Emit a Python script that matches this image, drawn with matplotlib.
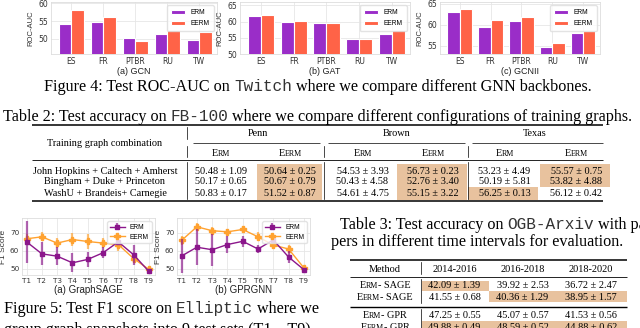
import matplotlib
matplotlib.use("Agg")
import matplotlib.pyplot as plt
from matplotlib.patches import Rectangle
import numpy as np

W, H = 640, 328
SERIF = "Liberation Serif"
MONO = "Liberation Mono"
SANS = "Liberation Sans"
CAP = 11.6   # caption size
TAB = 7.4    # table text size

# Figure 4: ROC-AUC on Twitch
twitch_sets = ["ES", "FR", "PTBR", "RU", "TW"]
gcn_erm = [54.2, 54.8, 50.4, 51.3, 49.8]
gcn_eerm = [58.0, 56.0, 49.3, 52.6, 52.0]
gat_erm = [61.7, 59.7, 59.5, 54.7, 56.3]
gat_eerm = [62.0, 60.3, 59.4, 54.5, 57.3]
gcnii_erm = [63.0, 59.5, 61.0, 54.7, 58.1]
gcnii_eerm = [63.8, 61.1, 61.8, 55.7, 58.5]

# Figure 5: F1 on Elliptic
test_sets = ["T1", "T2", "T3", "T4", "T5", "T6", "T7", "T8", "T9"]
sage_erm = [65.0, 58.3, 57.0, 53.3, 55.2, 58.9, 65.0, 57.8, 48.5]
sage_erm_err = [11.6, 6.4, 4.9, 5.2, 4.0, 3.0, 1.5, 5.5, 1.0]
sage_eerm = [66.7, 67.8, 64.3, 66.3, 65.2, 64.3, 63.5, 55.7, 49.6]
sage_eerm_err = [2.5, 2.5, 3.0, 3.5, 4.0, 3.0, 3.5, 2.0, 1.0]
gpr_erm = [57.1, 62.0, 60.6, 63.5, 65.3, 61.0, 66.1, 56.5, 49.5]
gpr_erm_err = [9.5, 10.0, 9.0, 4.5, 3.0, 2.5, 2.0, 3.5, 0.8]
gpr_eerm = [65.8, 73.4, 71.2, 70.6, 71.9, 67.8, 63.2, 61.0, 50.5]
gpr_eerm_err = [2.5, 2.0, 1.8, 1.8, 2.0, 2.5, 2.0, 2.0, 0.8]

# Table 2: FB-100
fb_rows = ["John Hopkins + Caltech + Amherst", "Bingham + Duke + Princeton",
           "WashU + Brandeis+ Carnegie"]
fb_graphs = ["Penn", "Brown", "Texas"]
fb_cells = [
    ["50.48 ± 1.09", "50.64 ± 0.25", "54.53 ± 3.93", "56.73 ± 0.23", "53.23 ± 4.49", "55.57 ± 0.75"],
    ["50.17 ± 0.65", "50.67 ± 0.79", "50.43 ± 4.58", "52.76 ± 3.40", "50.19 ± 5.81", "53.82 ± 4.88"],
    ["50.83 ± 0.17", "51.52 ± 0.87", "54.61 ± 4.75", "55.15 ± 3.22", "56.25 ± 0.13", "56.12 ± 0.42"],
]
fb_best = [[1, 3, 5], [1, 3, 5], [1, 3, 4]]

# Table 3: OGB-Arxiv
arxiv_years = ["2014-2016", "2016-2018", "2018-2020"]
arxiv_methods = [("E", "RM", "- SAGE"), ("E", "ERM", "- SAGE"), ("E", "RM", "- GPR"), ("E", "ERM", "- GPR")]
arxiv_cells = [
    ["42.09 ± 1.39", "39.92 ± 2.53", "36.72 ± 2.47"],
    ["41.55 ± 0.68", "40.36 ± 1.29", "38.95 ± 1.57"],
    ["47.25 ± 0.55", "45.07 ± 0.57", "41.53 ± 0.56"],
    ["49.88 ± 0.49", "48.59 ± 0.52", "44.88 ± 0.62"],
]
arxiv_best = [[0], [1, 2], [], [0, 1, 2]]

ERM_C, EERM_C = "#9A2DC8", "#FF6347"
ERM_L, EERM_L = "#8B168B", "#FFA230"
HL = "#E8C29E"

fig = plt.figure(figsize=(6.4, 3.28), dpi=100)
over = fig.add_axes([0, 0, 1, 1])
over.set_xlim(0, W)
over.set_ylim(H, 0)
over.axis("off")
rend = fig.canvas.get_renderer()


def put_runs(x, y, runs, size, ha="left", color="black"):
    # runs: (text, family, scale); " " means a word space
    items, total = [], 0.0
    for s, fam, sc in runs:
        if s == " ":
            w = size * 0.25 * 100 / 72
            items.append((None, w))
        else:
            c = "#333333" if fam == MONO else color
            t = over.text(0, y, s, family=fam, fontsize=size * sc, va="baseline", color=c)
            w = t.get_window_extent(rend).width
            items.append((t, w))
        total += w
    x0 = x - total / 2 if ha == "center" else x
    for t, w in items:
        if t is not None:
            t.set_x(x0)
        x0 += w


def words(*chunks):
    out = []
    for i, (s, fam) in enumerate(chunks):
        if i:
            out.append((" ", None, 1))
        out.append((s, fam, 1))
    return out


def hline(y, x0, x1, lw=0.6):
    over.plot([x0, x1], [y, y], color="black", lw=lw, solid_capstyle="butt")


def vline(x, y0, y1):
    over.plot([x, x], [y0, y1], color="black", lw=0.5)


def style(ax):
    ax.set_facecolor("white")
    ax.grid(True, color="#E6E6E6", lw=0.6, zorder=0)
    ax.set_axisbelow(True)
    for sp in ax.spines.values():
        sp.set_color("#DDDDDD")
        sp.set_linewidth(0.6)
    ax.tick_params(length=0, labelsize=5.5, pad=2, colors="#333333")


def px_rect(l, r, t, b):
    return [l / W, 1 - b / H, (r - l) / W, (b - t) / H]


def bar_panel(rect, erm, eerm, ylim, yticks, label):
    ax = fig.add_axes(rect)
    x = np.arange(len(twitch_sets))
    ax.bar(x - 0.2, erm, 0.4, color=ERM_C, edgecolor="white", lw=0.8, label="ERM", zorder=2)
    ax.bar(x + 0.2, eerm, 0.4, color=EERM_C, edgecolor="white", lw=0.8, label="EERM", zorder=2)
    ax.set_xticks(x, twitch_sets)
    ax.set_yticks(yticks)
    ax.set_xlim(-0.64, 4.55)
    ax.set_ylim(*ylim)
    style(ax)
    ax.set_ylabel("ROC-AUC", fontsize=5.5, labelpad=3, family=SANS, color="#333333")
    ax.set_xlabel(label, fontsize=6.5, labelpad=1, family=SANS, color="#222222")
    ax.legend(loc="upper right", handlelength=2.2, handleheight=0.6,
              borderpad=0.6, labelspacing=0.6, frameon=True, edgecolor="#DDDDDD",
              prop={"family": SANS, "size": 4.8})
    return ax


def line_panel(rect, erm, erm_e, eerm, eerm_e, label):
    ax = fig.add_axes(rect)
    x = np.arange(len(test_sets))
    ax.errorbar(x, erm, yerr=erm_e, color=ERM_L, marker="s", ms=3.2, lw=1.0,
                elinewidth=1.6, ecolor=ERM_L + "AA", label="ERM", zorder=3)
    ax.errorbar(x, eerm, yerr=eerm_e, color=EERM_L, marker="P", ms=4.2, lw=1.0,
                elinewidth=1.6, ecolor=EERM_L + "AA", label="EERM", zorder=2)
    ax.set_xticks(x, test_sets)
    ax.set_yticks([50, 60, 70])
    ax.set_xlim(-0.3, 8.4)
    ax.set_ylim(46.5, 78.3)
    style(ax)
    ax.tick_params(labelsize=5.2)
    ax.set_ylabel("F1 Score", fontsize=6, labelpad=2, family=SANS, color="#333333")
    ax.set_xlabel(label, fontsize=7, labelpad=1, family=SANS, color="#222222")
    ax.legend(loc="upper right", handlelength=2.2, borderpad=0.4, labelspacing=0.4,
              frameon=True, edgecolor="#DDDDDD", prop={"family": SANS, "size": 4.8})
    return ax


# ---- Figure 4
bar_panel(px_rect(51, 217, 2, 54), gcn_erm, gcn_eerm, (45.8, 60.3), [50, 55, 60], "(a) GCN")
bar_panel(px_rect(240, 410, 2, 54), gat_erm, gat_eerm, (50, 66), [50, 55, 60, 65], "(b) GAT")
bar_panel(px_rect(440, 600, 2, 54), gcnii_erm, gcnii_eerm, (53.1, 65.4), [55, 60, 65], "(c) GCNII")

put_runs(318, 91, words(("Figure 4: Test ROC-AUC on", SERIF), ("Twitch", MONO),
                        ("where we compare different GNN backbones.", SERIF)), CAP, ha="center")

# ---- Table 2
put_runs(3, 121, words(("Table 2: Test accuracy on", SERIF), ("FB-100", MONO),
                       ("where we compare different configurations of training graphs.", SERIF)), CAP)

cols_x = [221, 290, 362.5, 433, 504.5, 576.5]
hl_x = [(194, 254), (257, 322), (330, 394), (397, 467), (468, 538), (540, 610)]
row_y = [173.5, 184.5, 195.5]
row_band = [(164, 175.5), (175.5, 186.5), (186.5, 200)]
for i in range(3):
    for j in fb_best[i]:
        l, r = hl_x[j]
        t, b = row_band[i]
        over.add_patch(Rectangle((l, t), r - l, b - t, color=HL, lw=0, zorder=0))

hline(125, 32, 603, 1.1)
hline(143, 193, 320, 0.5)
hline(143, 328, 465, 0.5)
hline(143, 472, 603, 0.5)
hline(160, 32, 603, 0.6)
hline(200.5, 32, 603, 1.1)
for vx in [187, 324, 468]:
    if vx == 187:
        vline(vx, 127, 139)
    vline(vx, 146, 157)
    vline(vx, 162, 199)

put_runs(105, 145.5, [("Training graph combination", SERIF, 1)], TAB, ha="center")
for g, cx in zip(fb_graphs, [258, 397, 535]):
    put_runs(cx, 136.5, [(g, SERIF, 1)], TAB, ha="center")
for j, cx in enumerate(cols_x):
    if j % 2 == 0:
        put_runs(cx, 156.5, [("E", SERIF, 1), ("RM", SERIF, 0.78)], TAB, ha="center")
    else:
        put_runs(cx, 156.5, [("E", SERIF, 1), ("ERM", SERIF, 0.78)], TAB, ha="center")
for i, name in enumerate(fb_rows):
    put_runs(105, row_y[i], [(name, SERIF, 1)], TAB, ha="center")
    for j, cx in enumerate(cols_x):
        put_runs(cx, row_y[i], [(fb_cells[i][j], SERIF, 1)], TAB, ha="center")

# ---- Figure 5
line_panel(px_rect(22, 155, 218, 275), sage_erm, sage_erm_err, sage_eerm, sage_eerm_err,
           "(a) GraphSAGE")
line_panel(px_rect(177, 310, 218, 275), gpr_erm, gpr_erm_err, gpr_eerm, gpr_eerm_err,
           "(b) GPRGNN")

put_runs(4, 313, words(("Figure 5: Test F1 score on", SERIF), ("Elliptic", MONO),
                       ("where we", SERIF)), CAP)
put_runs(4, 333.5, words(("group graph snapshots into 9 test sets (T1 – T9).", SERIF)), CAP)

# ---- Table 3
put_runs(340, 229, words(("Table 3: Test accuracy on", SERIF), ("OGB-Arxiv", MONO),
                         ("with pa-", SERIF)), CAP)
put_runs(331, 246, words(("pers in different time intervals for evaluation.", SERIF)), CAP)

a_cols = [454.5, 522.5, 591]
a_hl = [(422, 489), (489, 558), (558, 627)]
a_rows = [288.5, 299.5, 318.5, 329.5]
a_band = [(281, 290.5), (290.5, 302), (311, 320.5), (320.5, 332)]
for i in range(4):
    for j in arxiv_best[i]:
        l, r = a_hl[j]
        t, b = a_band[i]
        over.add_patch(Rectangle((l, t), r - l, b - t, color=HL, lw=0, zorder=0))

hline(260, 350, 627, 1.1)
hline(276.5, 350, 627, 0.6)
hline(306.5, 350, 627, 1.0)
vline(421, 262, 274)
vline(421, 279, 303)
vline(421, 309, 328)
put_runs(385, 271.5, [("Method", SERIF, 1)], TAB, ha="center")
for yr, cx in zip(arxiv_years, a_cols):
    put_runs(cx, 271.5, [(yr, SERIF, 1)], TAB, ha="center")
for i, (big, small, rest) in enumerate(arxiv_methods):
    put_runs(385, a_rows[i], [(big, SERIF, 1), (small, SERIF, 0.78), (rest, SERIF, 1)], TAB, ha="center")
    for j, cx in enumerate(a_cols):
        put_runs(cx, a_rows[i], [(arxiv_cells[i][j], SERIF, 1)], TAB, ha="center")

fig.savefig("out.png", dpi=100)
